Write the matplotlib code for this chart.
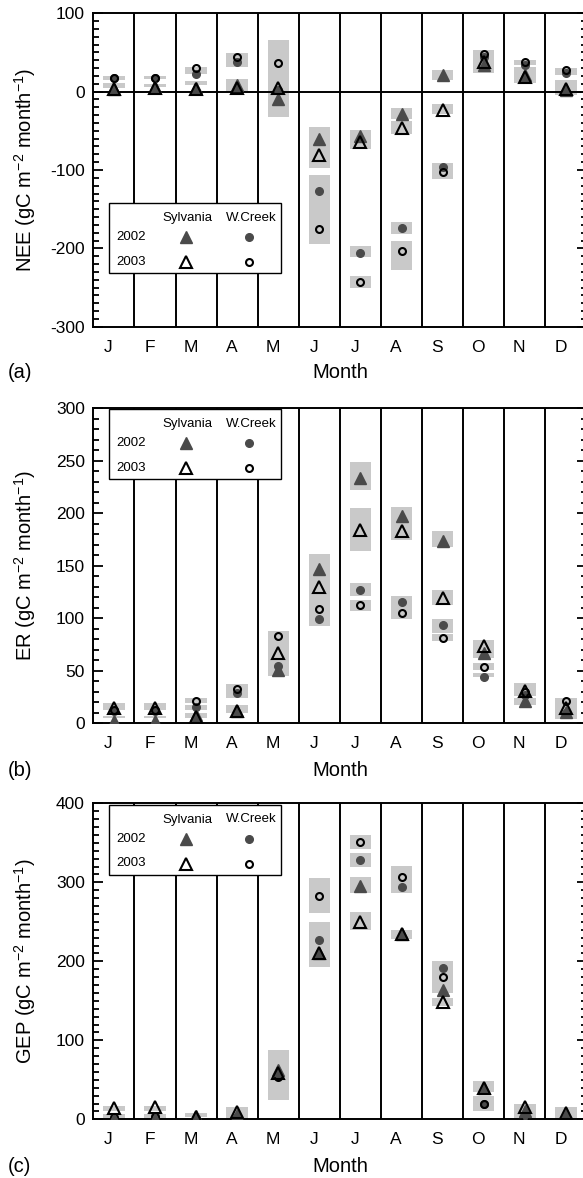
#!/usr/bin/env python3
"""Monthly NEE / ER / GEP at Sylvania and Willow Creek, 2002-2003."""

import matplotlib
matplotlib.use("Agg")
import matplotlib.pyplot as plt
import numpy as np
from matplotlib.patches import Rectangle
from matplotlib.ticker import MultipleLocator

plt.rcParams.update({
    "font.family": ["Liberation Sans", "DejaVu Sans"],
    "font.size": 12,
    "mathtext.default": "regular",
    "axes.unicode_minus": False,
})

MONTHS = ["J", "F", "M", "A", "M", "J", "J", "A", "S", "O", "N", "D"]

# ---- NEE (gC m-2 month-1) ----
nee_syl02 = [3, 6, 5, 8, -9, -60, -57, -29, 21, 34, 21, 2]
nee_syl03 = [4, 5, 4, 5, 5, -81, -64, -47, -23, 38, 19, 4]
nee_wc02 = [17, 17, 23, 38, 2, -127, -206, -174, -96, 44, 34, 24]
nee_wc03 = [18, 18, 30, 44, 36, -175, -243, -203, -103, 48, 38, 28]
nee_box_month = [1, 1, 2, 2, 3, 3, 4, 4, 5, 6, 6, 7, 7, 7, 8, 8, 8, 8, 9, 9, 9, 10, 11, 11, 12, 12]
nee_box_lo = [15, 5, 16, 6, 23, 8, 32, 0, -32, -97, -194, -73, -211, -251, -35, -54, -182, -227,
              15, -28, -111, 24, 34, 11, 21, -4]
nee_box_hi = [20, 11, 20, 10, 32, 13, 49, 16, 66, -45, -107, -49, -197, -235, -21, -38, -166, -190,
              28, -16, -91, 53, 40, 32, 30, 15]

# ---- ER ----
er_syl02 = [2, 2, 8, 12, 51, 147, 234, 197, 174, 67, 21, 11]
er_syl03 = [15, 15, 6, 12, 67, 130, 184, 183, 119, 74, 31, 15]
er_wc02 = [12, 12, 16, 29, 55, 99, 127, 116, 94, 44, 27, 10]
er_wc03 = [13, 13, 21, 33, 83, 109, 113, 105, 81, 54, 30, 21]
er_box_month = [1, 1, 2, 2, 3, 3, 3, 4, 4, 5, 6, 7, 7, 7, 7, 8, 8, 9, 9, 9, 9, 10, 10, 10, 11, 11, 12]
er_box_lo = [13, 5, 13, 5, 19, 13, 5, 24, 10, 45, 93, 222, 164, 121, 107, 175, 99, 168, 113, 86, 78,
             62, 51, 44, 26, 17, 4]
er_box_hi = [19, 7, 19, 7, 24, 17, 10, 37, 17, 88, 161, 249, 205, 134, 117, 206, 121, 183, 127, 99, 85,
             79, 57, 48, 38, 24, 24]

# ---- GEP ----
gep_syl02 = [0, 0, 4, 6, 63, 211, 295, 234, 164, 40, 11, 6]
gep_syl03 = [14, 15, 3, 9, 59, 211, 250, 235, 148, 40, 15, 8]
gep_wc02 = [3, 4, 2, 3, 56, 227, 328, 294, 191, 19, 3, 2]
gep_wc03 = [2, 3, 1, 2, 54, 283, 351, 307, 180, 19, 2, 1]
gep_box_month = [1, 1, 2, 2, 3, 4, 5, 6, 6, 7, 7, 7, 7, 8, 8, 9, 9, 10, 10, 11, 11, 12]
gep_box_lo = [11, 0, 11, 0, 3, 0, 24, 261, 193, 342, 320, 286, 240, 286, 228, 160, 143, 35, 10, 8, 0, 0]
gep_box_hi = [17, 7, 17, 7, 8, 16, 88, 305, 250, 360, 337, 307, 263, 320, 240, 200, 154, 48, 30, 20, 8, 16]

DARK = "#4a4a4a"
BOX = "#c9c9c9"


def draw_key(ax, top_px):
    W, H = ax.bbox.width, ax.bbox.height
    fx = lambda p: p / W
    fy = lambda p: 1 - (top_px + p) / H
    ax.add_patch(Rectangle((fx(15.7), fy(70)), fx(171.7), 70 / H, transform=ax.transAxes,
                           facecolor="white", edgecolor="black", linewidth=1.0, zorder=10,
                           clip_on=False))
    kw = dict(transform=ax.transAxes, fontsize=9.5, va="center", zorder=11)
    ax.text(fx(93.7), fy(14.5), "Sylvania", ha="center", **kw)
    ax.text(fx(157.7), fy(14.5), "W.Creek", ha="center", **kw)
    ax.text(fx(22.7), fy(34), "2002", ha="left", **kw)
    ax.text(fx(22.7), fy(58.5), "2003", ha="left", **kw)
    mk = dict(transform=ax.transAxes, clip_on=False, zorder=11, linestyle="none")
    ax.plot(fx(92.7), fy(34), marker="^", ms=8.5, color=DARK, **mk)
    ax.plot(fx(155.7), fy(34), marker="o", ms=5.5, color=DARK, **mk)
    ax.plot(fx(92.7), fy(58.5), marker="^", ms=8, mfc="none", mec="black", mew=1.5, **mk)
    ax.plot(fx(155.7), fy(58.5), marker="o", ms=5, mfc="none", mec="black", mew=1.5, **mk)


def panel(ax, syl02, syl03, wc02, wc03, bm, blo, bhi, ylim, major, ylabel, zero_line=False):
    x = np.arange(12) + 0.5
    bm = np.asarray(bm) - 0.5
    blo = np.asarray(blo, float)
    bhi = np.asarray(bhi, float)
    ax.bar(bm, bhi - blo, bottom=blo, width=0.52, color=BOX, linewidth=0, zorder=1)
    for b in range(1, 12):
        ax.axvline(b, color="black", linewidth=1.4, zorder=2)
    if zero_line:
        ax.axhline(0, color="black", linewidth=1.4, zorder=2)
    ax.plot(x, wc02, "o", ms=5.5, color=DARK, zorder=4)
    ax.plot(x, wc03, "o", ms=5, mfc="none", mec="black", mew=1.5, zorder=5)
    ax.plot(x, syl02, "^", ms=8.5, color=DARK, zorder=6)
    ax.plot(x, syl03, "^", ms=8, mfc="none", mec="black", mew=1.5, zorder=7)

    ax.set_xlim(0, 12)
    ax.set_ylim(*ylim)
    ax.set_xticks(np.arange(12) + 0.365)
    ax.set_xticklabels(MONTHS)
    ax.tick_params(axis="x", length=0, pad=9.5, labelsize=12.5)
    ax.yaxis.set_major_locator(MultipleLocator(major))
    ax.yaxis.set_minor_locator(MultipleLocator(10))
    ax.tick_params(axis="y", which="both", direction="in", right=True, labelsize=12.5, pad=6,
                   width=1.3)
    ax.tick_params(axis="y", which="major", length=7)
    ax.tick_params(axis="y", which="minor", length=4)
    for s in ax.spines.values():
        s.set_linewidth(1.4)
    ax.set_ylabel(ylabel, fontsize=14.5)
    ax.yaxis.set_label_coords(-0.138, 0.5)
    ax.yaxis.label.set_va("center")
    ax.set_xlabel("Month", fontsize=14.5)


def main():
    fig = plt.figure(figsize=(5.83, 11.78), dpi=100)
    W = 5.83 * 100
    H = 11.78 * 100
    left = 93.3 / W
    width = 493.2 / W

    def rect(top, bottom):
        return [left, 1 - bottom / H, width, (bottom - top) / H]

    ax_a = fig.add_axes(rect(13.3, 326.7))
    ax_b = fig.add_axes(rect(408.3, 723.3))
    ax_c = fig.add_axes(rect(803.3, 1119.3))

    unit = " (gC m$^{-2}$ month$^{-1}$)"
    panel(ax_a, nee_syl02, nee_syl03, nee_wc02, nee_wc03, nee_box_month, nee_box_lo, nee_box_hi,
          (-300, 100), 100, "NEE" + unit, zero_line=True)
    panel(ax_b, er_syl02, er_syl03, er_wc02, er_wc03, er_box_month, er_box_lo, er_box_hi,
          (0, 300), 50, "ER" + unit)
    panel(ax_c, gep_syl02, gep_syl03, gep_wc02, gep_wc03, gep_box_month, gep_box_lo, gep_box_hi,
          (0, 400), 100, "GEP" + unit)

    for ax, ybot, yl in [(ax_a, 326.7, 372), (ax_b, 723.3, 770), (ax_c, 1119.3, 1166.5)]:
        hpx = ax.bbox.height
        ax.xaxis.set_label_coords(0.5, -(yl - ybot) / hpx)
        ax.xaxis.label.set_va("center")

    draw_key(ax_a, 190)
    draw_key(ax_b, 1)
    draw_key(ax_c, 1.7)

    for lab, yl in [("(a)", 372), ("(b)", 770), ("(c)", 1166.5)]:
        fig.text(8 / W, 1 - yl / H, lab, fontsize=14.5, ha="left", va="center")

    fig.savefig("out.png", dpi=100)


if __name__ == "__main__":
    main()
